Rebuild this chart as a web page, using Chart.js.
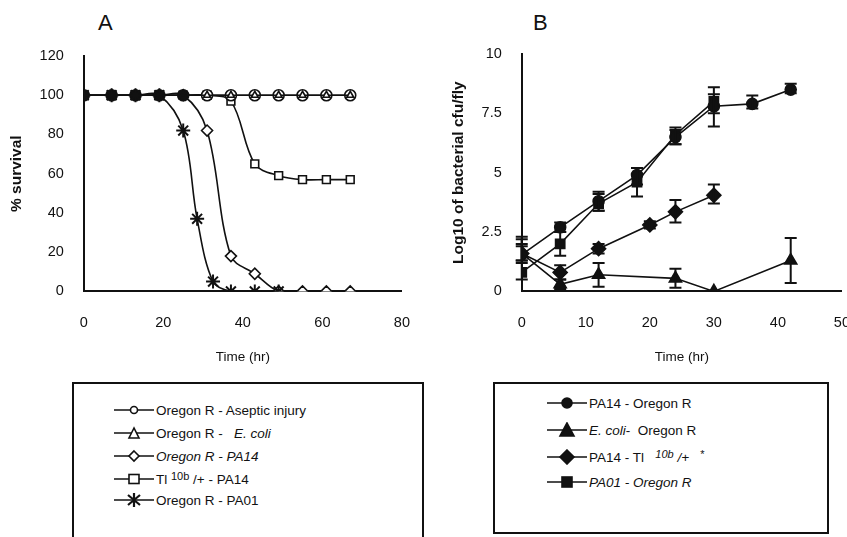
<!DOCTYPE html>
<html>
<head>
<meta charset="utf-8">
<script src="https://cdn.jsdelivr.net/npm/chart.js@4"></script>
<style>
  body { margin: 0; background: #fff; width: 847px; height: 537px; overflow: hidden; position: relative; font-family: "Liberation Sans", Arial, sans-serif; }
  .wrap { position: absolute; }
  .panel { position: absolute; font-size: 22px; color: #111; }
  .legbox { position: absolute; border: 2px solid #111; box-sizing: border-box; font-size: 13.5px; color: #111; }
  .item { position: absolute; display: flex; align-items: center; white-space: nowrap; }
  .item svg { margin-right: 2px; }
  sup { font-size: 11px; position: relative; top: -3px; vertical-align: baseline; }
</style>
</head>
<body>
<div class="panel" style="left:98px;top:10px;">A</div>
<div class="panel" style="left:533px;top:10px;">B</div>
<div class="wrap" style="left:0;top:0;width:427px;height:370px;"><canvas id="chartA"></canvas></div>
<div class="wrap" style="left:441px;top:0;width:426px;height:370px;"><canvas id="chartB"></canvas></div>

<div class="legbox" style="left:72px;top:382px;width:352px;height:160px;">
  <div class="item" style="left:40px;top:18px;" data-m="circle-open">Oregon R - Aseptic injury</div>
  <div class="item" style="left:40px;top:41px;" data-m="triangle-open">Oregon R - &nbsp;&nbsp;<i>E. coli</i></div>
  <div class="item" style="left:40px;top:64px;" data-m="diamond-open"><i>Oregon R - PA14</i></div>
  <div class="item" style="left:40px;top:87px;" data-m="square-open">Tl&nbsp;<sup>10b</sup>&nbsp;/+ - PA14</div>
  <div class="item" style="left:40px;top:108px;" data-m="star">Oregon R - PA01</div>
</div>
<div class="legbox" style="left:493px;top:382px;width:336px;height:152px;">
  <div class="item" style="left:52px;top:11px;" data-m="circle">PA14 - Oregon R</div>
  <div class="item" style="left:52px;top:38px;" data-m="triangle"><i>E. coli</i>- &nbsp;Oregon R</div>
  <div class="item" style="left:52px;top:65px;" data-m="diamond">PA14 - Tl &nbsp;&nbsp;<sup><i>10b</i></sup>&nbsp;<i>/+</i>&nbsp;&nbsp;&nbsp;<sup>*</sup></div>
  <div class="item" style="left:52px;top:90px;" data-m="square"><i>PA01 - Oregon R</i></div>
</div>

<script>
// ---- Panel A: survival ----
const timesA = [0, 7, 13, 19, 25, 31, 37, 43, 49, 55, 61, 67];
const asepticA = [100, 100, 100, 100, 100, 100, 100, 100, 100, 100, 100, 100];
const ecoliA = [100, 100, 100, 100, 100, 100, 100, 100, 100, 100, 100, 100];
const pa14A = [100, 100, 100, 100, 100, 82, 18, 9, 0, 0, 0, 0];
const tlA = [100, 100, 100, 100, 100, 100, 97, 65, 59, 57, 57, 57];
const timesPA01 = [0, 7, 13, 19, 25, 28.5, 32.5, 37, 43, 49];
const pa01A = [100, 100, 100, 100, 82, 37, 5, 0, 0, 0];
const ticksA_x = [0, 20, 40, 60, 80];
const ticksA_y = [0, 20, 40, 60, 80, 100, 120];

// ---- Panel B: bacterial growth ----
const timesCircle = [0, 6, 12, 18, 24, 30, 36, 42];
const pa14OR = [1.55, 2.7, 3.8, 4.9, 6.5, 7.8, 7.9, 8.5];
const pa14ORlo = [1.2, 2.5, 3.4, 4.5, 6.2, 6.95, 7.7, 8.35];
const pa14ORhi = [2.0, 2.9, 4.2, 5.2, 6.8, 8.3, 8.25, 8.75];

const timesTri = [0, 6, 12, 24, 30, 42];
const ecoliOR = [1.6, 0.3, 0.7, 0.55, 0, 1.3];
const ecoliORlo = [1.3, 0.1, 0.2, 0.15, null, 0.35];
const ecoliORhi = [2.2, 0.5, 1.2, 0.95, null, 2.25];

const timesDia = [0, 6, 12, 20, 24, 30];
const pa14Tl = [1.6, 0.8, 1.8, 2.8, 3.35, 4.05];
const pa14Tllo = [1.3, 0.5, 1.6, 2.65, 2.9, 3.7];
const pa14Tlhi = [1.9, 1.1, 2.0, 2.95, 3.85, 4.5];

const timesSq = [0, 6, 12, 18, 24, 30];
const pa01OR = [0.8, 2.0, 3.7, 4.6, 6.6, 8.0];
const pa01ORlo = [0.5, 1.5, 3.4, 4.0, 6.2, 7.5];
const pa01ORhi = [2.3, 2.5, 4.1, 5.2, 6.9, 8.6];
const ticksB_x = [0, 10, 20, 30, 40, 50];
const ticksB_y = [0, 2.5, 5, 7.5, 10];

function pts(xs, ys) {
    return xs.map((x, i) => ({ x: x, y: ys[i] }));
}

const FONT = '"Liberation Sans", Arial, sans-serif';

function axisOpts(min, max, vals, title, vertical) {
    return {
        type: 'linear',
        min: min, max: max,
        afterBuildTicks: (ax) => { ax.ticks = vals.map(v => ({ value: v })); },
        grid: { display: false, drawOnChartArea: false, drawTicks: true, tickLength: 6, tickColor: '#111', tickWidth: 2 },
        border: { display: true, color: '#111', width: 2 },
        ticks: { color: '#111', font: { family: FONT, size: 14.5 }, padding: vertical ? 14 : 17, maxRotation: 0, autoSkip: false },
        title: {
            display: true, text: title, color: '#111',
            font: { family: FONT, size: vertical ? 15.5 : 13.5, weight: vertical ? 'bold' : 'normal' },
            padding: vertical ? { top: 2, bottom: 0 } : { top: 0, bottom: 4 }
        }
    };
}

// overlapping markers in the scan merge into solid blobs:
// fill a marker black when 4+ series share that exact point
function overlapFill(ctx) {
    const raw = ctx.raw;
    if (!raw) return '#fff';
    let n = 0;
    ctx.chart.data.datasets.forEach(ds => {
        if (ds.data.some(p => p.x === raw.x && p.y === raw.y)) n++;
    });
    return n >= 4 ? '#111' : '#fff';
}

function lineSet(data, style, filled, extra) {
    return Object.assign({
        data: data,
        borderColor: '#111',
        borderWidth: 1.6,
        pointStyle: style,
        pointRadius: 5.5,
        pointBorderWidth: 1.6,
        pointBorderColor: '#111',
        pointBackgroundColor: filled ? '#111' : overlapFill,
        fill: false
    }, extra || {});
}

const smooth = { tension: 0.35 };

new Chart(document.getElementById('chartA'), {
    type: 'line',
    data: {
        datasets: [
            lineSet(pts(timesA, asepticA), 'circle', false, Object.assign({ order: 2, pointRadius: 5.5 }, smooth)),
            lineSet(pts(timesA, ecoliA), 'triangle', false, Object.assign({ order: 1, pointRadius: 4 }, smooth)),
            lineSet(pts(timesA, pa14A), 'rectRot', false, Object.assign({ order: 3 }, smooth)),
            lineSet(pts(timesA, tlA), 'rect', false, Object.assign({ order: 4 }, smooth)),
            lineSet(pts(timesPA01, pa01A), 'star', false, Object.assign({ order: 0, pointRadius: 7, pointBorderWidth: 2 }, smooth))
        ]
    },
    options: {
        responsive: true,
        maintainAspectRatio: false,
        animation: false,
        layout: { padding: { left: 5, right: 5, top: 56, bottom: 1 } },
        plugins: { legend: { display: false }, tooltip: { enabled: false } },
        scales: {
            x: axisOpts(0, 80, ticksA_x, 'Time (hr)', false),
            y: axisOpts(0, 120, ticksA_y, '% survival', true)
        }
    }
});

// error bars drawn through the chart's own scales
const errLo = [pa14ORlo, ecoliORlo, pa14Tllo, pa01ORlo];
const errHi = [pa14ORhi, ecoliORhi, pa14Tlhi, pa01ORhi];
const errTimes = [timesCircle, timesTri, timesDia, timesSq];

const errorBars = {
    id: 'errorBars',
    afterDatasetsDraw(chart) {
        const ctx = chart.ctx;
        const xs = chart.scales.x, ys = chart.scales.y;
        ctx.save();
        ctx.strokeStyle = '#111';
        ctx.lineWidth = 2;
        for (let s = 0; s < errLo.length; s++) {
            for (let i = 0; i < errTimes[s].length; i++) {
                if (errLo[s][i] == null) continue;
                const px = xs.getPixelForValue(errTimes[s][i]);
                const lo = ys.getPixelForValue(errLo[s][i]);
                const hi = ys.getPixelForValue(errHi[s][i]);
                ctx.beginPath();
                ctx.moveTo(px, lo); ctx.lineTo(px, hi);
                ctx.moveTo(px - 6, lo); ctx.lineTo(px + 6, lo);
                ctx.moveTo(px - 6, hi); ctx.lineTo(px + 6, hi);
                ctx.stroke();
            }
        }
        ctx.restore();
    }
};

new Chart(document.getElementById('chartB'), {
    type: 'line',
    data: {
        datasets: [
            lineSet(pts(timesCircle, pa14OR), 'circle', true),
            lineSet(pts(timesTri, ecoliOR), 'triangle', true, { pointRadius: 7 }),
            lineSet(pts(timesDia, pa14Tl), 'rectRot', true, { pointRadius: 7 }),
            lineSet(pts(timesSq, pa01OR), 'rect', true, { pointRadius: 6.5 })
        ]
    },
    options: {
        responsive: true,
        maintainAspectRatio: false,
        animation: false,
        layout: { padding: { left: 6, right: 0, top: 54, bottom: 1 } },
        plugins: { legend: { display: false }, tooltip: { enabled: false } },
        scales: {
            x: axisOpts(0, 50, ticksB_x, 'Time (hr)', false),
            y: axisOpts(0, 10, ticksB_y, 'Log10 of bacterial cfu/fly', true)
        }
    },
    plugins: [errorBars]
});

// legend markers
function markerSvg(kind) {
    const open = kind.endsWith('-open');
    const shape = kind.replace('-open', '');
    const fill = open ? '#fff' : '#111';
    let m = '';
    if (shape === 'circle') m = `<circle cx="20" cy="8" r="${open ? 3.5 : 5}" fill="${fill}" stroke="#111" stroke-width="1.6"/>`;
    if (shape === 'triangle') m = `<polygon points="20,${open ? 3 : 1} ${open ? 15 : 13},${open ? 13 : 14} ${open ? 25 : 27},${open ? 13 : 14}" fill="${fill}" stroke="#111" stroke-width="1.6"/>`;
    if (shape === 'diamond') m = `<polygon points="20,${open ? 3 : 1} ${open ? 25 : 27},8 20,${open ? 13 : 15} ${open ? 15 : 13},8" fill="${fill}" stroke="#111" stroke-width="1.6"/>`;
    if (shape === 'square') m = `<rect x="15" y="${open ? 3.5 : 3}" width="10" height="${open ? 9 : 10}" fill="${fill}" stroke="#111" stroke-width="1.6"/>`;
    if (shape === 'star') m = `<path d="M20 1 V15 M14 3 L26 13 M26 3 L14 13" stroke="#111" stroke-width="2.2"/>`;
    return `<svg width="40" height="16"><line x1="0" y1="8" x2="40" y2="8" stroke="#111" stroke-width="1.6"/>${m}</svg>`;
}
document.querySelectorAll('.item').forEach(el => {
    el.insertAdjacentHTML('afterbegin', markerSvg(el.dataset.m));
});
</script>
</body>
</html>
